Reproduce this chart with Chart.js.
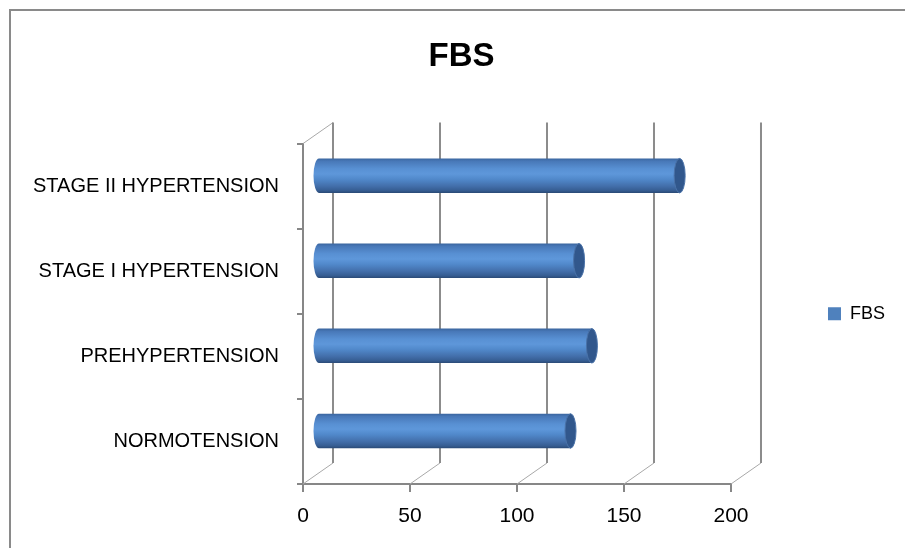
<!DOCTYPE html>
<html>
<head>
<meta charset="utf-8">
<script src="https://cdn.jsdelivr.net/npm/chart.js@4.4.1/dist/chart.umd.min.js"></script>
<style>
  html, body { margin: 0; padding: 0; background: #fff; overflow: hidden; }
  #wrap { position: relative; width: 905px; height: 548px; overflow: hidden; }
  #wrap canvas { position: absolute; left: 0; top: 0; }
  #frame {
    position: absolute; left: 9px; top: 9px; width: 920px; height: 560px;
    border-left: 2px solid #8a8a8a; border-top: 2px solid #8a8a8a;
    pointer-events: none;
  }
</style>
</head>
<body>
<div id="wrap">
  <canvas id="chart" width="905" height="548"></canvas>
  <div id="frame"></div>
</div>
<script>
// Fasting blood sugar by blood-pressure group
const categories = ['NORMOTENSION', 'PREHYPERTENSION', 'STAGE I HYPERTENSION', 'STAGE II HYPERTENSION'];
const fbsValues = [118, 128, 122, 169];
const seriesName = 'FBS';
const xTicks = [0, 50, 100, 150, 200];

const FONT = "'Liberation Sans', Arial, sans-serif";
const AXIS_GREY = '#878787';
const SERIES_BLUE = '#4f81bd';

// depth of the 3-D box (back wall offset); bars sit halfway in
const DEPTH_X = 30;
const DEPTH_Y = 21;

Chart.defaults.font.family = FONT;

const box3d = {
  id: 'box3d',
  beforeDatasetsDraw(chart) {
    const { ctx, scales: { x, y } } = chart;
    ctx.save();
    // side wall top edge
    ctx.strokeStyle = '#a8a8a8';
    ctx.lineWidth = 1;
    ctx.beginPath();
    ctx.moveTo(x.left, y.top);
    ctx.lineTo(x.left + DEPTH_X, y.top - DEPTH_Y);
    ctx.stroke();
    xTicks.forEach(v => {
      const px = x.getPixelForValue(v);
      // floor lines
      ctx.strokeStyle = '#a8a8a8';
      ctx.lineWidth = 1;
      ctx.beginPath();
      ctx.moveTo(px, y.bottom);
      ctx.lineTo(px + DEPTH_X, y.bottom - DEPTH_Y);
      ctx.stroke();
      // back wall gridlines
      ctx.strokeStyle = '#8c8c8c';
      ctx.lineWidth = 2;
      ctx.beginPath();
      ctx.moveTo(px + DEPTH_X, y.top - DEPTH_Y);
      ctx.lineTo(px + DEPTH_X, y.bottom - DEPTH_Y);
      ctx.stroke();
    });
    ctx.restore();
  },
  beforeDatasetDraw(chart, args) {
    const { ctx } = chart;
    const meta = args.meta;
    ctx.save();
    meta.data.forEach(el => {
      const p = el.getProps(['x', 'y', 'base', 'height'], true);
      const x0 = p.base + DEPTH_X / 2;
      const x1 = p.x + DEPTH_X / 2;
      const yc = p.y - DEPTH_Y / 2;
      const r = p.height / 2;
      const rx = 5.5;

      const body = ctx.createLinearGradient(0, yc - r, 0, yc + r);
      body.addColorStop(0, '#3a659e');
      body.addColorStop(0.08, '#4878b8');
      body.addColorStop(0.3, '#5890d3');
      body.addColorStop(0.45, '#5e97da');
      body.addColorStop(0.6, '#5189cb');
      body.addColorStop(0.8, '#436fab');
      body.addColorStop(0.93, '#365d92');
      body.addColorStop(1, '#2a4a76');

      ctx.fillStyle = body;
      ctx.beginPath();
      ctx.moveTo(x1, yc - r);
      ctx.lineTo(x0, yc - r);
      ctx.ellipse(x0, yc, rx, r, 0, -Math.PI / 2, Math.PI / 2, true);
      ctx.lineTo(x1, yc + r);
      ctx.closePath();
      ctx.fill();

      // end cap
      ctx.fillStyle = '#31578c';
      ctx.beginPath();
      ctx.ellipse(x1, yc, rx, r, 0, 0, Math.PI * 2);
      ctx.fill();
      ctx.strokeStyle = '#4a72a8';
      ctx.lineWidth = 1;
      ctx.stroke();
    });
    ctx.restore();
    return false;
  }
};

new Chart(document.getElementById('chart'), {
  type: 'bar',
  data: {
    labels: categories,
    datasets: [{
      label: seriesName,
      data: fbsValues,
      backgroundColor: SERIES_BLUE,
      borderWidth: 0,
      categoryPercentage: 0.405,
      barPercentage: 1
    }]
  },
  plugins: [box3d],
  options: {
    indexAxis: 'y',
    responsive: false,
    animation: false,
    devicePixelRatio: 1,
    layout: { padding: { left: 28, right: 10, top: 10, bottom: 0 } },
    plugins: {
      legend: {
        display: true,
        position: 'right',
        fullSize: false,
        align: 'center',
        labels: {
          color: '#000',
          font: { family: FONT, size: 18 },
          boxWidth: 13,
          boxHeight: 13,
          padding: 97
        }
      },
      tooltip: { enabled: false },
      title: {
        display: true,
        text: 'FBS',
        color: '#000',
        font: { family: FONT, size: 33, weight: 'bold' },
        padding: { top: 27, bottom: 67 }
      }
    },
    scales: {
      x: {
        min: 0,
        max: 200,
        ticks: { stepSize: 50, color: '#000', font: { size: 21 }, padding: 12 },
        grid: { drawOnChartArea: false, drawTicks: true, tickLength: 8, color: AXIS_GREY, lineWidth: 2 },
        border: { display: true, color: AXIS_GREY, width: 2 },
        afterFit(scale) { scale.height = 64; }
      },
      y: {
        reverse: true,
        ticks: { color: '#000', font: { size: 20 }, padding: 18 },
        grid: { offset: true, drawOnChartArea: false, drawTicks: true, tickLength: 6, color: AXIS_GREY, lineWidth: 2 },
        border: { display: true, color: AXIS_GREY, width: 2 },
        afterFit(scale) { scale.width = 275; }
      }
    }
  }
});
</script>
</body>
</html>
